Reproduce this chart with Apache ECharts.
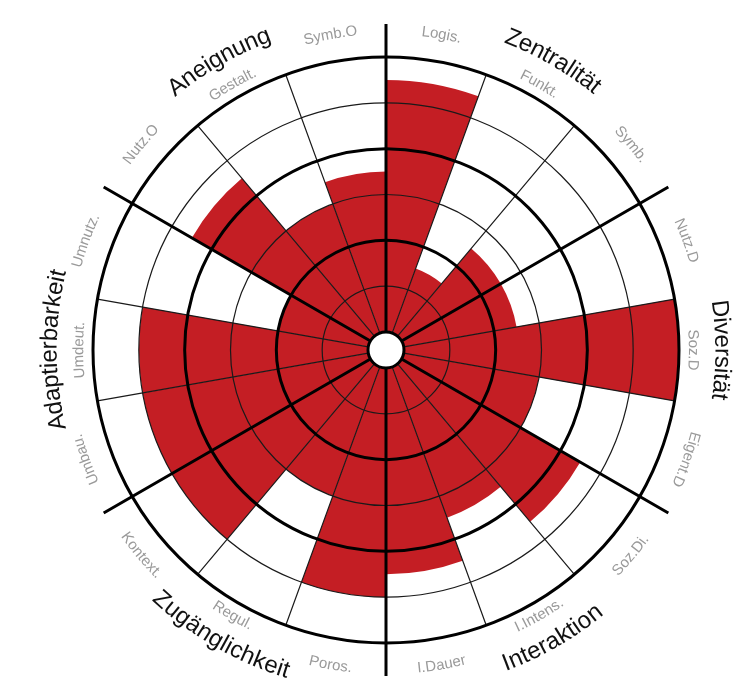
<!DOCTYPE html>
<html>
<head>
<meta charset="utf-8">
<script src="https://cdn.jsdelivr.net/npm/echarts@6/dist/echarts.min.js"></script>
<style>
  html, body { margin: 0; padding: 0; background: #fff; }
  #chart { width: 756px; height: 686px; }
</style>
</head>
<body>
<div id="chart"></div>
<script>
// groups (clockwise from top), 3 criteria each
const groups = ['Zentralität', 'Diversität', 'Interaktion', 'Zugänglichkeit', 'Adaptierbarkeit', 'Aneignung'];
const categories = ['Logis.', 'Funkt.', 'Symb.', 'Nutz.D', 'Soz.D', 'Eigent.D',
  'Soz.Di.', 'I.Intens.', 'I.Dauer', 'Poros.', 'Regul.', 'Kontext.',
  'Umbau.', 'Umdeut.', 'Umnutz.', 'Nutz.O', 'Gestalt.', 'Symb.O'];
const values = [5.5, 1.5, 2.5, 2.5, 6, 3, 4.5, 3.5, 4.5, 5, 3, 5, 5, 5, 2, 4.5, 3, 3.5];

const cx = 386, cy = 350;
const rIn = 18, rOut = 293, rSpoke = 326;
const FONT = '"Liberation Sans", Arial, sans-serif';

const chart = echarts.init(document.getElementById('chart'));

// text bent along a circle, one char at a time
const measure = document.createElement('canvas').getContext('2d');
function arcText(text, angDeg, r, font, color) {
  const flip = angDeg > 120 && angDeg < 240;
  measure.font = font;
  const chars = Array.from(text);
  const widths = chars.map(c => measure.measureText(c).width);
  const total = widths.reduce((a, b) => a + b, 0);
  let s = -total / 2;
  return chars.map((c, i) => {
    const mid = s + widths[i] / 2;
    s += widths[i];
    const d = mid / r * 180 / Math.PI;
    const a = flip ? angDeg - d : angDeg + d;
    const rad = a * Math.PI / 180;
    const rot = flip ? 180 - a : -a;
    return {
      type: 'text',
      x: cx + r * Math.sin(rad),
      y: cy - r * Math.cos(rad),
      rotation: rot * Math.PI / 180,
      silent: true,
      style: {
        text: c, font: font, fill: color,
        align: 'center', verticalAlign: 'middle',
        textAlign: 'center', textVerticalAlign: 'middle'
      }
    };
  });
}

let labels = [];
categories.forEach((name, i) => {
  const r = (i % 3 === 1) ? 307 : 320;
  labels = labels.concat(arcText(name, 10 + 20 * i, r, '15px ' + FONT, '#9a9a9a'));
});
groups.forEach((name, i) => {
  labels = labels.concat(arcText(name, 30 + 60 * i, 336, '24px ' + FONT, '#111'));
});

const hidden = { axisLine: { show: false }, axisTick: { show: false }, axisLabel: { show: false } };

const option = {
  animation: false,
  backgroundColor: '#fff',
  polar: [
    { center: [cx, cy], radius: [rIn, rOut] },
    { center: [cx, cy], radius: [rIn, rOut] },
    { center: [cx, cy], radius: [rIn, rSpoke] }
  ],
  angleAxis: [
    {
      polarIndex: 0, type: 'category', data: categories, startAngle: 90, clockwise: true,
      boundaryGap: true, z: 10, ...hidden,
      splitLine: { show: true, lineStyle: { color: '#1a1a1a', width: 1.2 } }
    },
    {
      polarIndex: 1, type: 'category', data: categories, startAngle: 90, clockwise: true,
      z: 10, ...hidden, splitLine: { show: false }
    },
    {
      polarIndex: 2, type: 'category', data: groups, startAngle: 90, clockwise: true,
      boundaryGap: true, z: 11, ...hidden,
      splitLine: { show: true, lineStyle: { color: '#000', width: 3 } }
    }
  ],
  radiusAxis: [
    {
      polarIndex: 0, type: 'value', min: 0, max: 6, interval: 1, z: 10, ...hidden,
      splitLine: { show: true, lineStyle: { color: '#1a1a1a', width: 1.2 } }
    },
    {
      polarIndex: 1, type: 'value', min: 0, max: 6, interval: 2, z: 11, ...hidden,
      splitLine: { show: true, lineStyle: { color: '#000', width: 3 } }
    },
    {
      polarIndex: 2, type: 'value', min: 0, max: 1, z: 10, ...hidden,
      splitLine: { show: false }
    }
  ],
  series: [
    {
      type: 'bar',
      coordinateSystem: 'polar',
      polarIndex: 0,
      data: values,
      barCategoryGap: '0%',
      z: 1,
      silent: true,
      itemStyle: { color: '#c41e24' }
    }
  ],
  graphic: labels
};

chart.setOption(option);
</script>
</body>
</html>
